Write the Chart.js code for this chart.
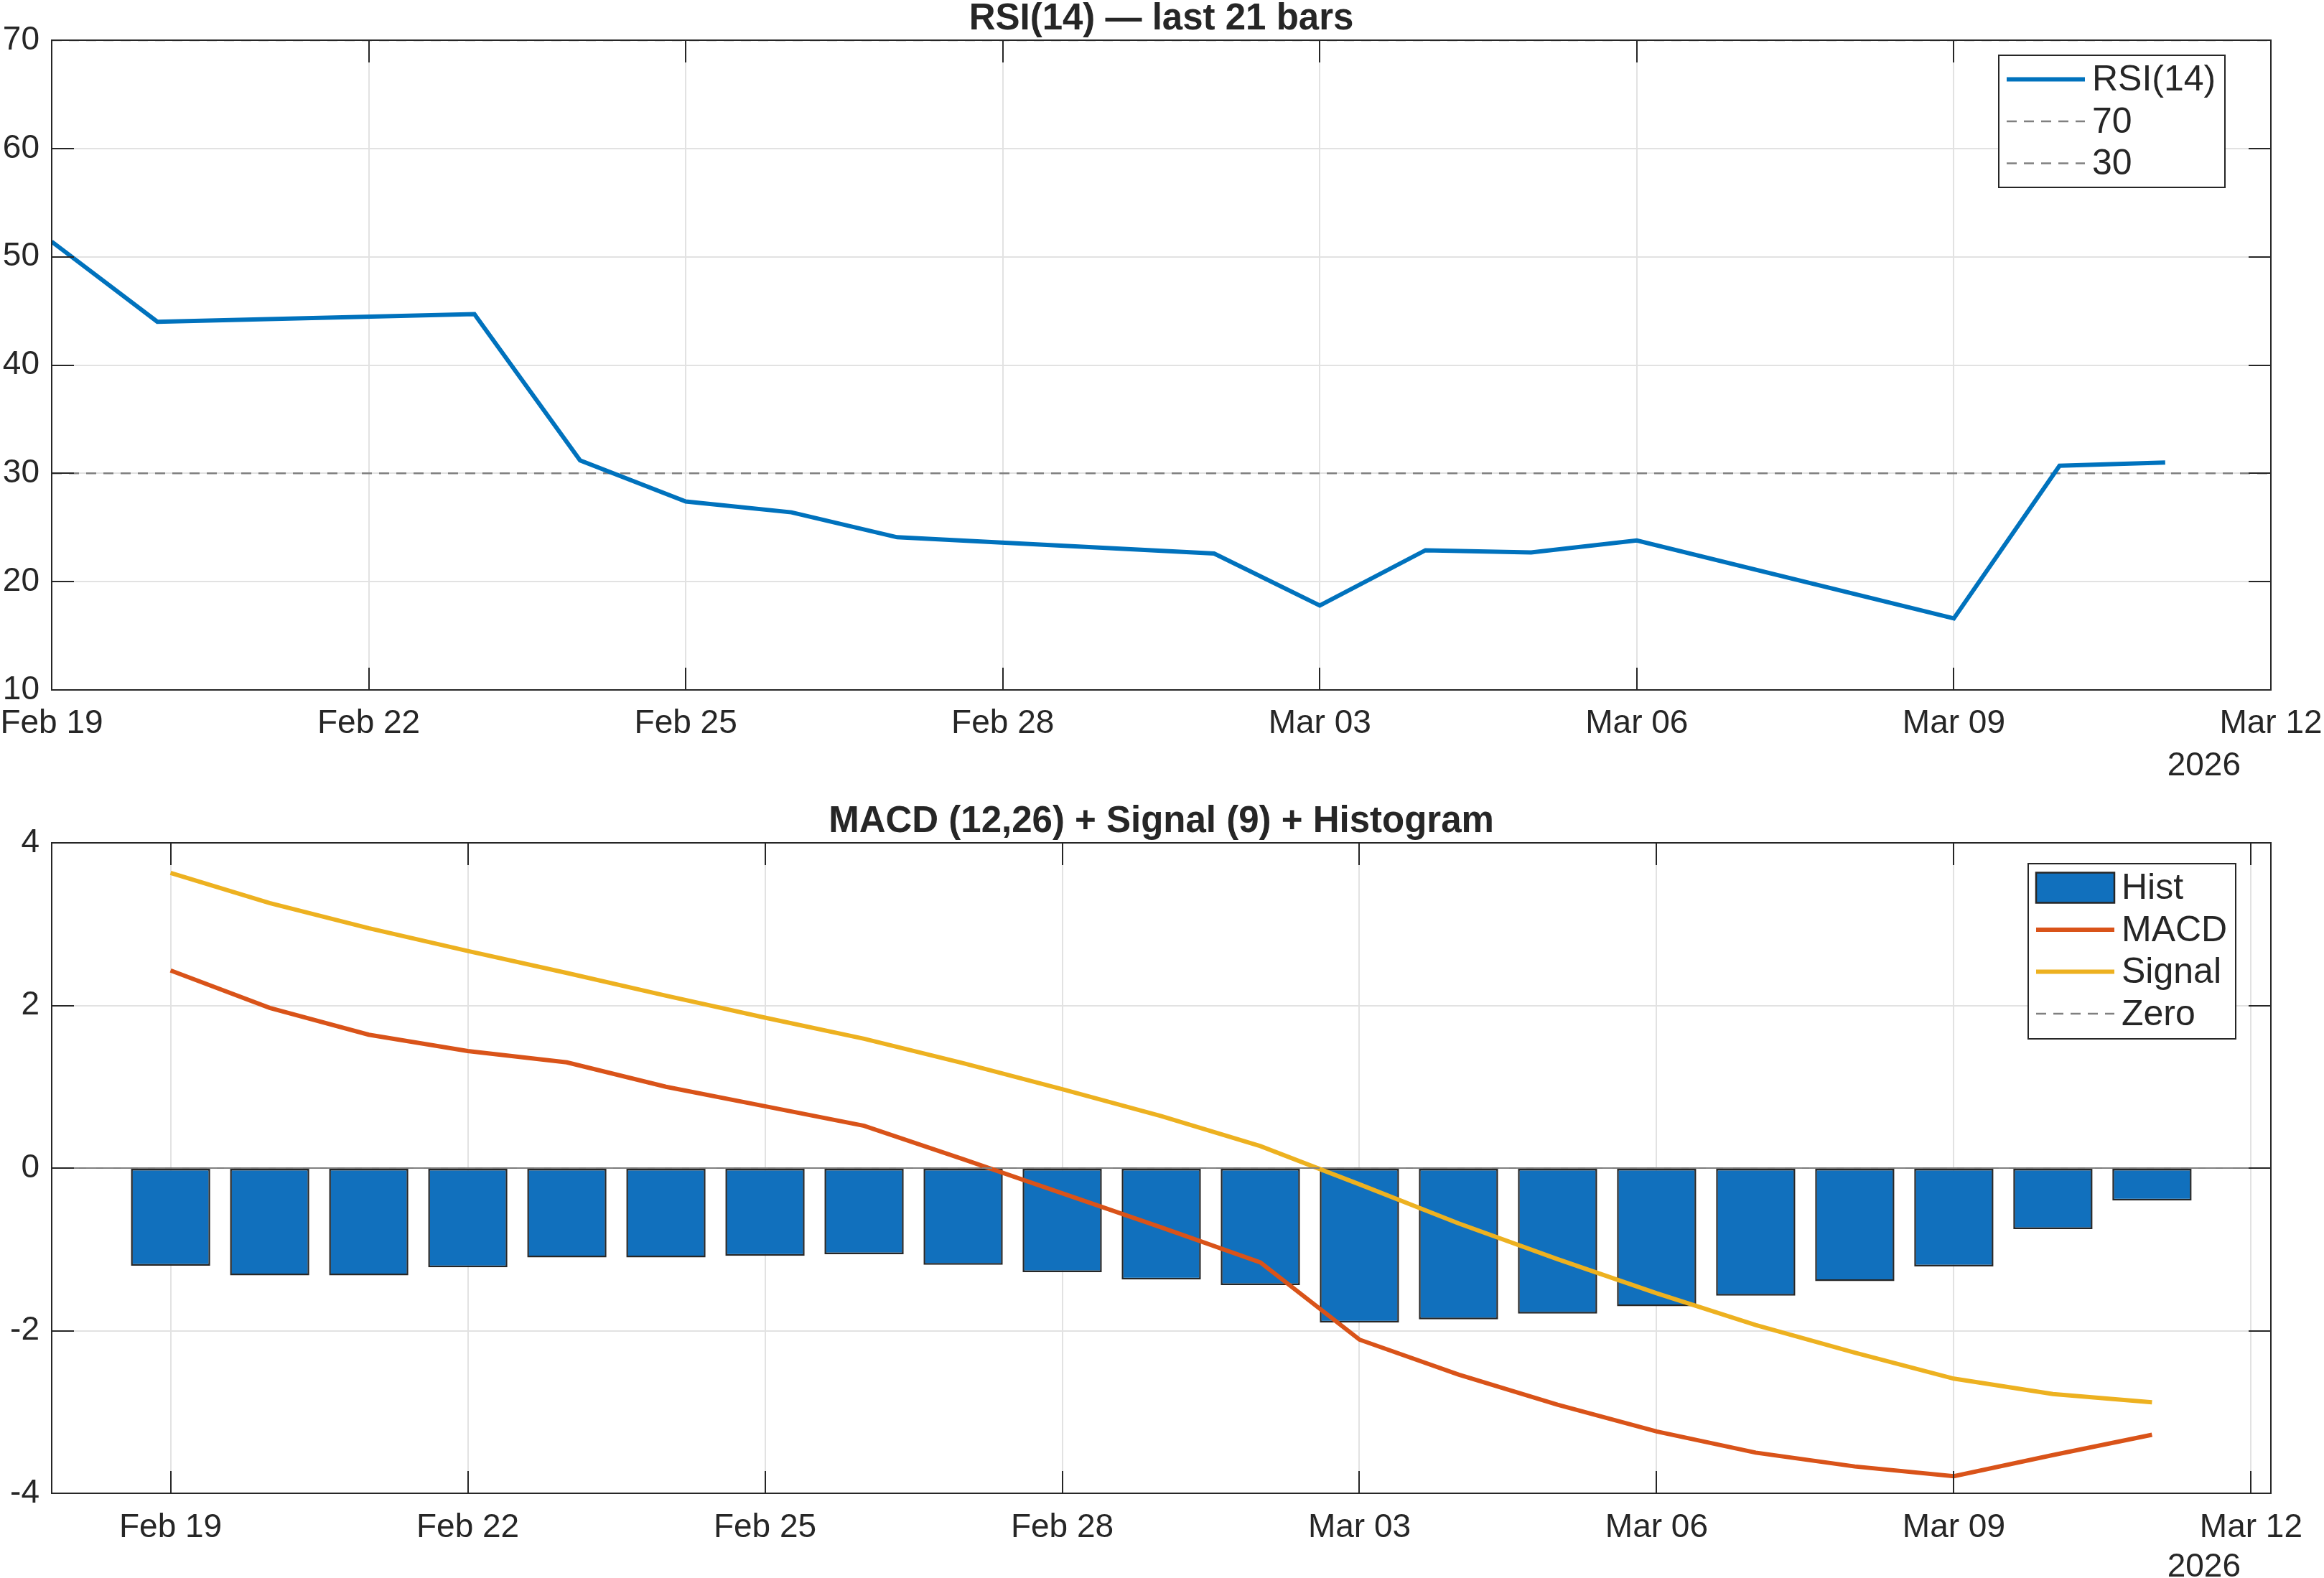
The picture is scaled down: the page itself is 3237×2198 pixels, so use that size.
<!DOCTYPE html>
<html>
<head>
<meta charset="utf-8">
<title>RSI / MACD</title>
<script src="https://cdn.jsdelivr.net/npm/chart.js@4.4.1/dist/chart.umd.min.js"></script>
<style>
  html, body { margin: 0; padding: 0; background: #fff; }
  .panel { position: absolute; left: 0; width: 3237px; }
  #rsiWrap { top: 0; height: 1090px; }
  #macdWrap { top: 1090px; height: 1108px; }
</style>
</head>
<body>
<div class="panel" id="rsiWrap"><canvas id="rsiChart" width="3237" height="1090"></canvas></div>
<div class="panel" id="macdWrap"><canvas id="macdChart" width="3237" height="1108"></canvas></div>
<script>
// ---- data ----
const rsiDates = ['2026-02-19', '2026-02-20', '2026-02-23', '2026-02-24', '2026-02-25', '2026-02-26', '2026-02-27',
                  '2026-03-02', '2026-03-03', '2026-03-04', '2026-03-05', '2026-03-06', '2026-03-09', '2026-03-10', '2026-03-11'];
const rsiValues = [51.4, 44.0, 44.7, 31.2, 27.4, 26.4, 24.1, 22.6, 17.8, 22.9, 22.7, 23.8, 16.6, 30.7, 31.0];
const rsiLevels = [70, 30];

const macdDates = ['2026-02-19', '2026-02-20', '2026-02-21', '2026-02-22', '2026-02-23', '2026-02-24', '2026-02-25',
                   '2026-02-26', '2026-02-27', '2026-02-28', '2026-03-01', '2026-03-02', '2026-03-03', '2026-03-04',
                   '2026-03-05', '2026-03-06', '2026-03-07', '2026-03-08', '2026-03-09', '2026-03-10', '2026-03-11'];
const histValues = [-1.20, -1.32, -1.32, -1.22, -1.10, -1.10, -1.08, -1.06, -1.19, -1.28, -1.37,
                    -1.44, -1.90, -1.86, -1.79, -1.70, -1.57, -1.39, -1.21, -0.75, -0.40];
const macdValues = [2.43, 1.97, 1.64, 1.44, 1.30, 1.00, 0.76, 0.52, 0.11, -0.31, -0.73,
                    -1.16, -2.11, -2.54, -2.91, -3.24, -3.50, -3.67, -3.79, -3.53, -3.28];
const signalValues = [3.63, 3.26, 2.95, 2.67, 2.40, 2.12, 1.85, 1.59, 1.29, 0.97, 0.64,
                      0.27, -0.20, -0.68, -1.12, -1.54, -1.93, -2.27, -2.59, -2.78, -2.88];

const tickDates = ['2026-02-19', '2026-02-22', '2026-02-25', '2026-02-28', '2026-03-03', '2026-03-06', '2026-03-09', '2026-03-12'];
const tickLabels = ['Feb 19', 'Feb 22', 'Feb 25', 'Feb 28', 'Mar 03', 'Mar 06', 'Mar 09', 'Mar 12'];
const yearLabel = '2026';
const rsiTicks = [10, 20, 30, 40, 50, 60, 70];
const macdTicks = [-4, -2, 0, 2, 4];

// days since Feb 19 are used as the x value
const baseDay = Date.UTC(2026, 1, 19);
function dayOf(s) {
    const p = s.split('-').map(Number);
    return (Date.UTC(p[0], p[1] - 1, p[2]) - baseDay) / 86400000;
}
const tickDays = tickDates.map(dayOf);

const FONT = "'Liberation Sans', Arial, Helvetica, sans-serif";
const INK = '#262626';
const BLUE = '#0072BD', BAR = '#1170BD', ORANGE = '#D95319', YELLOW = '#EDB120', DASH = '#808080';

Chart.defaults.font.family = FONT;
Chart.defaults.color = INK;

// box, inside ticks, titles, legend: the matlab look
const matlabFrame = {
    id: 'matlabFrame',
    beforeDatasetsDraw(chart, args, opts) {
        if (!opts.baseline) return;
        const {ctx, chartArea: a, scales: {y}} = chart;
        const py = y.getPixelForValue(0);
        ctx.save();
        ctx.strokeStyle = '#7a7a7a';
        ctx.lineWidth = 2;
        ctx.beginPath();
        ctx.moveTo(a.left, py);
        ctx.lineTo(a.right, py);
        ctx.stroke();
        ctx.restore();
    },
    afterDraw(chart, args, opts) {
        const {ctx, chartArea: a, scales: {x, y}} = chart;
        ctx.save();
        ctx.strokeStyle = INK;
        ctx.lineWidth = 2;
        ctx.beginPath();
        x.ticks.forEach(t => {
            const px = Math.round(x.getPixelForValue(t.value));
            ctx.moveTo(px, a.bottom); ctx.lineTo(px, a.bottom - 31);
            ctx.moveTo(px, a.top); ctx.lineTo(px, a.top + 31);
        });
        y.ticks.forEach(t => {
            const py = Math.round(y.getPixelForValue(t.value));
            ctx.moveTo(a.left, py); ctx.lineTo(a.left + 31, py);
            ctx.moveTo(a.right, py); ctx.lineTo(a.right - 31, py);
        });
        ctx.stroke();
        ctx.strokeRect(a.left, a.top, a.right - a.left, a.bottom - a.top);

        // title
        ctx.fillStyle = INK;
        ctx.font = 'bold 51px ' + FONT;
        ctx.textAlign = 'center';
        ctx.textBaseline = 'alphabetic';
        ctx.fillText(opts.title, (a.left + a.right) / 2, a.top - 15);

        // year under the last tick
        ctx.font = '46px ' + FONT;
        ctx.textAlign = 'right';
        ctx.fillText(yearLabel, a.right - 42, opts.yearY);

        // legend
        const lg = opts.legend;
        const bx = a.right - lg.right - lg.width, by = a.top + lg.top;
        ctx.fillStyle = '#fff';
        ctx.fillRect(bx, by, lg.width, lg.height);
        ctx.strokeStyle = INK;
        ctx.lineWidth = 2;
        ctx.strokeRect(bx, by, lg.width, lg.height);
        ctx.font = '50px ' + FONT;
        ctx.textAlign = 'left';
        ctx.textBaseline = 'middle';
        lg.items.forEach((it, i) => {
            const cy = by + 33.5 + i * 58.5;
            const x0 = bx + 11, x1 = bx + 120;
            if (it.kind === 'patch') {
                ctx.fillStyle = it.color;
                ctx.fillRect(x0, cy - 21, x1 - x0, 42);
                ctx.strokeStyle = INK;
                ctx.lineWidth = 2.5;
                ctx.strokeRect(x0, cy - 21, x1 - x0, 42);
            } else {
                ctx.strokeStyle = it.color;
                ctx.lineWidth = it.kind === 'dash' ? 2.5 : 6;
                ctx.setLineDash(it.kind === 'dash' ? [14, 10] : []);
                ctx.beginPath();
                ctx.moveTo(x0, cy);
                ctx.lineTo(x1, cy);
                ctx.stroke();
                ctx.setLineDash([]);
            }
            ctx.fillStyle = INK;
            ctx.fillText(it.label, bx + 130, cy + 2);
        });
        ctx.restore();
    }
};

function xAxis(min, max, height, pad) {
    return {
        type: 'linear', min: min, max: max, offset: false,
        afterBuildTicks: s => { s.ticks = tickDays.map(v => ({value: v})); },
        afterFit: s => { s.height = height; s.paddingLeft = 0; s.paddingRight = 0; },
        ticks: {
            autoSkip: false, maxRotation: 0, padding: pad, color: INK,
            font: {size: 46},
            callback: (v, i) => tickLabels[i]
        },
        grid: {color: '#e2e2e2', lineWidth: 2, drawTicks: false, offset: false},
        border: {display: false}
    };
}
function yAxis(min, max, ticks) {
    return {
        min: min, max: max,
        afterBuildTicks: s => { s.ticks = ticks.map(v => ({value: v})); },
        afterFit: s => { s.width = 72; s.paddingTop = 0; s.paddingBottom = 0; },
        ticks: {padding: 17, color: INK, font: {size: 46}},
        grid: {color: '#e2e2e2', lineWidth: 2, drawTicks: false},
        border: {display: false}
    };
}
function levelLine(v, lo, hi) {
    return [{x: lo, y: v}, {x: hi, y: v}];
}

const rsiX = [0, 21];
new Chart(document.getElementById('rsiChart'), {
    type: 'line',
    data: {
        datasets: [
            {label: 'RSI(14)', data: rsiDates.map((d, i) => ({x: dayOf(d), y: rsiValues[i]})),
             borderColor: BLUE, borderWidth: 6, pointRadius: 0, tension: 0, order: 0},
            ...rsiLevels.map(v => ({label: String(v), data: levelLine(v, rsiX[0], rsiX[1]),
             borderColor: DASH, borderWidth: 2.5, borderDash: [14, 10], pointRadius: 0, order: 1}))
        ]
    },
    options: {
        responsive: false, animation: false, devicePixelRatio: 1,
        layout: {padding: {top: 56, right: 74, bottom: 0, left: 0}},
        scales: {x: xAxis(rsiX[0], rsiX[1], 129, 20), y: yAxis(10, 70, rsiTicks)},
        plugins: {
            legend: {display: false}, tooltip: {enabled: false},
            matlabFrame: {
                title: 'RSI(14) \u2014 last 21 bars', yearY: 1080,
                legend: {right: 64, top: 21, width: 315, height: 184, items: [
                    {kind: 'line', color: BLUE, label: 'RSI(14)'},
                    {kind: 'dash', color: DASH, label: '70'},
                    {kind: 'dash', color: DASH, label: '30'}
                ]}
            }
        }
    },
    plugins: [matlabFrame]
});

const macdX = [-1.2, 21.2];
const macdDays = macdDates.map(dayOf);
new Chart(document.getElementById('macdChart'), {
    type: 'bar',
    data: {
        datasets: [
            {type: 'bar', label: 'Hist', data: macdDays.map((d, i) => ({x: d, y: histValues[i]})),
             backgroundColor: BAR, borderColor: INK, borderWidth: 2.5, borderSkipped: false,
             barPercentage: 0.8, categoryPercentage: 1.0, order: 4},
            {type: 'line', label: 'MACD', data: macdDays.map((d, i) => ({x: d, y: macdValues[i]})),
             borderColor: ORANGE, borderWidth: 6, pointRadius: 0, tension: 0, order: 3},
            {type: 'line', label: 'Signal', data: macdDays.map((d, i) => ({x: d, y: signalValues[i]})),
             borderColor: YELLOW, borderWidth: 6, pointRadius: 0, tension: 0, order: 2},
            {type: 'line', label: 'Zero', data: levelLine(0, macdX[0], macdX[1]),
             borderColor: DASH, borderWidth: 2, borderDash: [14, 10], pointRadius: 0, order: 1}
        ]
    },
    options: {
        responsive: false, animation: false, devicePixelRatio: 1,
        layout: {padding: {top: 84, right: 74, bottom: 0, left: 0}},
        scales: {x: xAxis(macdX[0], macdX[1], 118, 21), y: yAxis(-4, 4, macdTicks)},
        plugins: {
            legend: {display: false}, tooltip: {enabled: false},
            matlabFrame: {
                title: 'MACD (12,26) + Signal (9) + Histogram', yearY: 1106, baseline: true,
                legend: {right: 49, top: 29, width: 289, height: 244, items: [
                    {kind: 'patch', color: BAR, label: 'Hist'},
                    {kind: 'line', color: ORANGE, label: 'MACD'},
                    {kind: 'line', color: YELLOW, label: 'Signal'},
                    {kind: 'dash', color: DASH, label: 'Zero'}
                ]}
            }
        }
    },
    plugins: [matlabFrame]
});
</script>
</body>
</html>
